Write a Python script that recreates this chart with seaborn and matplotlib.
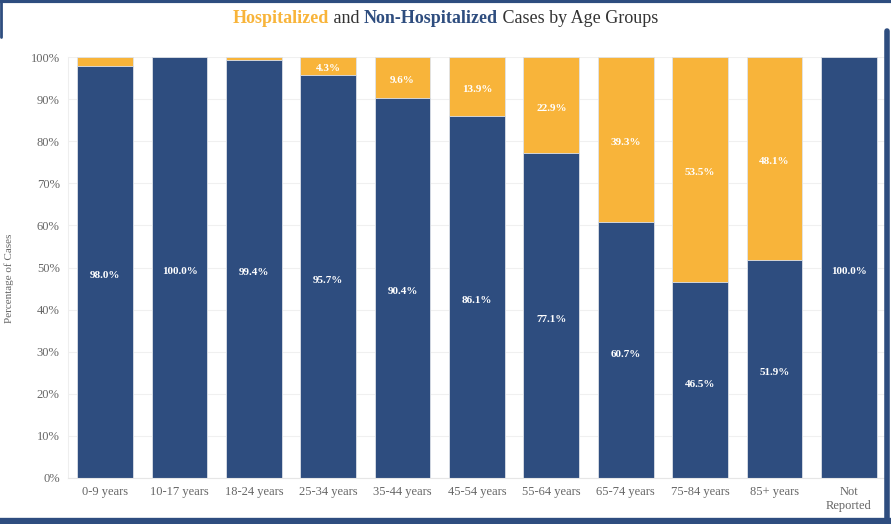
import numpy as np
import pandas as pd
import seaborn as sns
import matplotlib.pyplot as plt
from matplotlib.lines import Line2D

ages = ['0-9 years', '10-17 years', '18-24 years', '25-34 years', '35-44 years',
        '45-54 years', '55-64 years', '65-74 years', '75-84 years', '85+ years',
        'Not\nReported']
non_hosp = [98.0, 100.0, 99.4, 95.7, 90.4, 86.1, 77.1, 60.7, 46.5, 51.9, 100.0]
hosp = [2.0, 0.0, 0.6, 4.3, 9.6, 13.9, 22.9, 39.3, 53.5, 48.1, 0.0]

navy = '#2E4D7F'
orange = '#F8B43A'
grey = '#666666'

sns.set_style('white')
plt.rcParams['font.family'] = ['Liberation Serif', 'DejaVu Serif']

df = pd.DataFrame({'Age': ages, 'Non': non_hosp, 'Hosp': hosp})
df['Total'] = df['Non'] + df['Hosp']

fig = plt.figure(figsize=(8.91, 5.24), dpi=100)
ax = fig.add_axes([0.0763, 0.088, 0.918, 0.803])

sns.barplot(data=df, x='Age', y='Total', color=orange, saturation=1, width=0.75,
            edgecolor='#dfe3ea', linewidth=0.6, ax=ax)
sns.barplot(data=df, x='Age', y='Non', color=navy, saturation=1, width=0.75,
            edgecolor='#dfe3ea', linewidth=0.6, ax=ax)

# labels in the middle of each segment, nudged down a little like the original
for i, (n, h) in enumerate(zip(non_hosp, hosp)):
    ax.annotate(f'{n:.1f}%', (i, n / 2), xytext=(0, -3), textcoords='offset points',
                ha='center', va='center', color='white', fontsize=8, fontweight='bold')
    if h >= 3:
        ax.annotate(f'{h:.1f}%', (i, n + h / 2), xytext=(0, -2), textcoords='offset points',
                    ha='center', va='center', color='white', fontsize=8, fontweight='bold')

ax.set_ylim(0, 100)
ax.set_xlim(-0.5, len(ages) - 0.5)
ax.set_yticks(np.arange(0, 101, 10))
ax.set_yticklabels([f'{v}%' for v in range(0, 101, 10)])
ax.yaxis.grid(True, color='#f0f0f0', linewidth=0.8)
ax.set_axisbelow(True)
ax.tick_params(axis='both', colors=grey, labelsize=9, length=0, pad=6)
ax.set_xlabel('')
ax.set_ylabel('Percentage of Cases', color=grey, fontsize=8)
ax.yaxis.set_label_coords(-0.066, 0.475)
for s in ['top', 'right']:
    ax.spines[s].set_visible(False)
ax.spines['left'].set_color('#eeeeee')
ax.spines['bottom'].set_color('#e6e6e6')

# title in coloured pieces, laid out left to right
parts = [('Hospitalized', orange, 'bold'), (' and ', '#333333', 'normal'),
         ('Non-Hospitalized', navy, 'bold'), (' Cases by Age Groups', '#333333', 'normal')]
renderer = fig.canvas.get_renderer()
widths = []
for txt, c, w in parts:
    t = fig.text(0, 0, txt, fontsize=13, fontweight=w)
    widths.append(t.get_window_extent(renderer).width / fig.bbox.width)
    t.remove()
x = 0.5 - sum(widths) / 2
for (txt, c, w), wd in zip(parts, widths):
    fig.text(x, 0.965, txt, color=c, fontsize=13, fontweight=w, ha='left', va='center')
    x += wd

# frame lines
fig.add_artist(Line2D([0, 1], [0.998, 0.998], color=navy, lw=3, transform=fig.transFigure))
fig.add_artist(Line2D([0, 1], [0.004, 0.004], color=navy, lw=6, transform=fig.transFigure))
fig.add_artist(Line2D([0.996, 0.996], [0, 0.94], color=navy, lw=4, transform=fig.transFigure))
fig.add_artist(Line2D([0.001, 0.001], [0.93, 1], color=navy, lw=2, transform=fig.transFigure))

fig.savefig('out.png', dpi=100)
